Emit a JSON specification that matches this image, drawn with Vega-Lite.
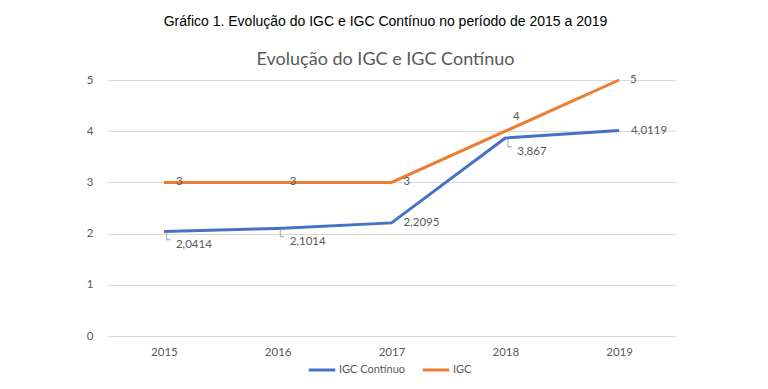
{
  "$schema": "https://vega.github.io/schema/vega-lite/v6.json",
  "width": 569,
  "height": 256,
  "autosize": {"type": "none"},
  "padding": {"left": 107, "top": 80, "right": 92, "bottom": 53},
  "background": "white",
  "config": {
    "locale": {"number": {"decimal": ",", "thousands": ".", "grouping": [3], "currency": ["R$", ""]}},
    "view": {"stroke": null},
    "font": "Lato"
  },
  "title": {
    "text": "Gráfico 1. Evolução do IGC e IGC Contínuo no período de 2015 a 2019",
    "subtitle": "Evolução do IGC e IGC Contínuo",
    "anchor": "middle",
    "frame": "group",
    "dx": -6,
    "font": "Liberation Sans",
    "fontSize": 14,
    "fontWeight": "normal",
    "color": "#000000",
    "subtitleFont": "Lato",
    "subtitleFontSize": 18,
    "subtitleColor": "#595959",
    "subtitlePadding": 22,
    "offset": 5
  },
  "data": {
    "values": [
      {"year": "2015", "series": "IGC Contínuo", "value": 2.0414},
      {"year": "2016", "series": "IGC Contínuo", "value": 2.1014},
      {"year": "2017", "series": "IGC Contínuo", "value": 2.2095},
      {"year": "2018", "series": "IGC Contínuo", "value": 3.867},
      {"year": "2019", "series": "IGC Contínuo", "value": 4.0119},
      {"year": "2015", "series": "IGC", "value": 3},
      {"year": "2016", "series": "IGC", "value": 3},
      {"year": "2017", "series": "IGC", "value": 3},
      {"year": "2018", "series": "IGC", "value": 4},
      {"year": "2019", "series": "IGC", "value": 5}
    ]
  },
  "encoding": {
    "x": {
      "field": "year", "type": "ordinal",
      "scale": {"type": "point", "padding": 0.5},
      "axis": {"title": null, "labelAngle": 0, "domain": false, "ticks": false, "grid": false, "labelFontSize": 11.5, "labelColor": "#595959", "labelPadding": 10, "labelFont": "Lato"}
    },
    "y": {
      "field": "value", "type": "quantitative",
      "scale": {"domain": [0, 5]},
      "axis": {"title": null, "values": [0, 1, 2, 3, 4, 5], "domain": false, "ticks": false, "gridColor": "#d9d9d9", "labelFontSize": 11.5, "labelColor": "#595959", "labelPadding": 14, "labelFont": "Lato"}
    }
  },
  "layer": [
    {
      "mark": {"type": "line", "strokeWidth": 3},
      "encoding": {
        "color": {
          "field": "series", "type": "nominal",
          "scale": {"domain": ["IGC Contínuo", "IGC"], "range": ["#4472C4", "#ED7D31"]},
          "legend": {"title": null, "orient": "none", "legendX": 200, "legendY": 275, "direction": "horizontal", "symbolType": "stroke", "symbolStrokeWidth": 3, "symbolSize": 700, "labelFontSize": 11, "labelColor": "#595959", "labelFont": "Lato", "labelOffset": 2, "columnPadding": 10}
        }
      }
    },
    {
      "transform": [{"filter": "datum.series == 'IGC' && datum.year <= '2017'"}],
      "mark": {"type": "text", "align": "left", "baseline": "middle", "dx": 12, "fontSize": 11.5, "color": "#595959"},
      "encoding": {"text": {"field": "value", "type": "quantitative", "format": ".5~g"}}
    },
    {
      "transform": [{"filter": "datum.series == 'IGC' && datum.year == '2018'"}],
      "mark": {"type": "text", "align": "center", "baseline": "middle", "dx": 11, "dy": -14, "fontSize": 11.5, "color": "#595959"},
      "encoding": {"text": {"field": "value", "type": "quantitative", "format": ".5~g"}}
    },
    {
      "transform": [{"filter": "datum.series == 'IGC' && datum.year == '2019'"}],
      "mark": {"type": "text", "align": "left", "baseline": "middle", "dx": 11, "fontSize": 11.5, "color": "#595959"},
      "encoding": {"text": {"field": "value", "type": "quantitative", "format": ".5~g"}}
    },
    {
      "transform": [{"filter": "datum.series == 'IGC Contínuo' && (datum.year == '2017' || datum.year == '2019')"}],
      "mark": {"type": "text", "align": "left", "baseline": "middle", "dx": 12, "fontSize": 11.5, "color": "#595959"},
      "encoding": {"text": {"field": "value", "type": "quantitative", "format": ".5~g"}}
    },
    {
      "transform": [{"filter": "datum.series == 'IGC Contínuo' && datum.year != '2017' && datum.year != '2019'"}],
      "mark": {"type": "text", "align": "left", "baseline": "middle", "dx": 12, "dy": 14, "fontSize": 11.5, "color": "#595959"},
      "encoding": {"text": {"field": "value", "type": "quantitative", "format": ".5~g"}}
    },
    {
      "transform": [{"filter": "datum.series == 'IGC Contínuo' && datum.year != '2017' && datum.year != '2019'"}],
      "mark": {"type": "text", "align": "left", "baseline": "middle", "dx": -1, "dy": 9, "fontSize": 12, "font": "DejaVu Sans", "color": "#a6a6a6", "text": "└"},
      "encoding": {}
    }
  ]
}
